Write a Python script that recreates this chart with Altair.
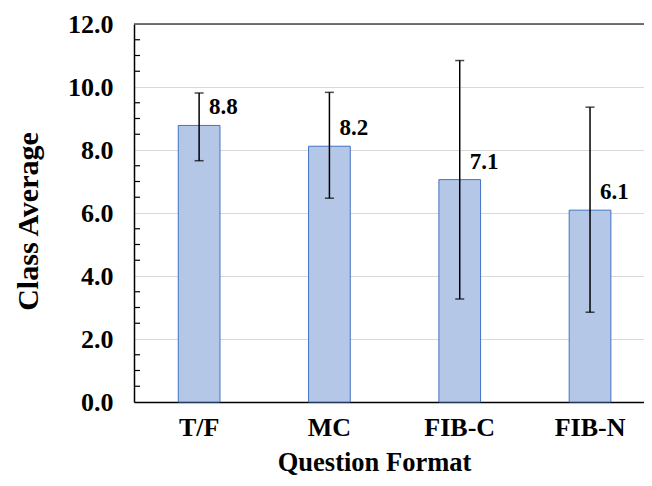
import altair as alt
import pandas as pd

categories = ["T/F", "MC", "FIB-C", "FIB-N"]
averages = [8.78, 8.12, 7.06, 6.09]
labels = ["8.8", "8.2", "7.1", "6.1"]
err_low = [7.66, 6.47, 3.27, 2.85]
err_high = [9.81, 9.83, 10.84, 9.36]
major_ticks = [0, 2, 4, 6, 8, 10, 12]
minor_ticks = [0.5, 1, 1.5, 2.5, 3, 3.5, 4.5, 5, 5.5, 6.5, 7, 7.5,
               8.5, 9, 9.5, 10.5, 11, 11.5]

df = pd.DataFrame({"cat": categories, "avg": averages, "lab": labels,
                   "lo": err_low, "hi": err_high})
ticks_df = pd.DataFrame({"t": minor_ticks})

W = 510
H = 378
FONT = "Liberation Serif"

xscale = alt.Scale(domain=categories, paddingInner=0.68, paddingOuter=0.297, align=0.572)
yscale = alt.Scale(domain=[0, 12], nice=False)

x_enc = alt.X("cat:N", scale=xscale, sort=categories,
              axis=alt.Axis(title="Question Format", labelAngle=0,
                            labelFont=FONT, labelFontSize=26, labelFontWeight="bold",
                            labelColor="black", labelBaseline="alphabetic",
                            labelPadding=33, ticks=False, tickSize=0,
                            domainColor="black", domainWidth=1.5,
                            titleFont=FONT, titleFontSize=26.5, titleFontWeight="bold",
                            titleColor="black", titleX=240, titleY=68,
                            titleBaseline="alphabetic", titleAnchor="start", titleAlign="center"))

y_axis = alt.Axis(title="Class Average", values=major_ticks, format=".1f",
                  labelFont=FONT, labelFontSize=26, labelFontWeight="bold",
                  labelColor="black", labelPadding=21, ticks=False, tickSize=0,
                  domainColor="black", domainWidth=1.5,
                  grid=True, gridColor="#d9d9d9", gridWidth=1,
                  titleFont=FONT, titleFontSize=30, titleFontWeight="bold",
                  titleColor="black", titleX=-106, titleY=197,
                  titleBaseline="middle", titleAlign="center", titleAngle=-90)

base = alt.Chart(df)

bars = base.mark_bar(fill="#b4c7e7", stroke="#4472c4", strokeWidth=1).encode(
    x=x_enc,
    y=alt.Y("avg:Q", scale=yscale, axis=y_axis),
)

err_rule = base.mark_rule(color="black", strokeWidth=1.5).encode(
    x=alt.X("cat:N", scale=xscale, sort=categories),
    y=alt.Y("lo:Q", scale=yscale),
    y2="hi:Q",
)
cap_lo = base.mark_tick(color="black", size=9, thickness=1.5, orient="horizontal").encode(
    x=alt.X("cat:N", scale=xscale, sort=categories),
    y=alt.Y("lo:Q", scale=yscale),
)
cap_hi = base.mark_tick(color="black", size=9, thickness=1.5, orient="horizontal").encode(
    x=alt.X("cat:N", scale=xscale, sort=categories),
    y=alt.Y("hi:Q", scale=yscale),
)

text = base.mark_text(font=FONT, fontSize=23, fontWeight="bold", color="black",
                      align="left", baseline="middle", dx=10, dy=-18).encode(
    x=alt.X("cat:N", scale=xscale, sort=categories),
    y=alt.Y("avg:Q", scale=yscale),
    text="lab:N",
)

minor = alt.Chart(ticks_df).mark_rule(color="black", strokeWidth=1.2).encode(
    x=alt.value(0), x2=alt.value(6),
    y=alt.Y("t:Q", scale=yscale),
)

top_border = alt.Chart(pd.DataFrame({"v": [12]})).mark_rule(color="#454545", strokeWidth=1.5).encode(
    x=alt.value(0), x2=alt.value(W),
    y=alt.Y("v:Q", scale=yscale),
)

chart = alt.layer(bars, minor, top_border, err_rule, cap_lo, cap_hi, text).properties(
    width=W, height=H,
    autosize=alt.AutoSizeParams(type="none"),
    padding={"left": 126, "top": 16, "right": 0, "bottom": 76},
    background="white",
).configure_view(stroke=None)

chart.save("out.html", embed_options={"renderer": "svg", "actions": False})
